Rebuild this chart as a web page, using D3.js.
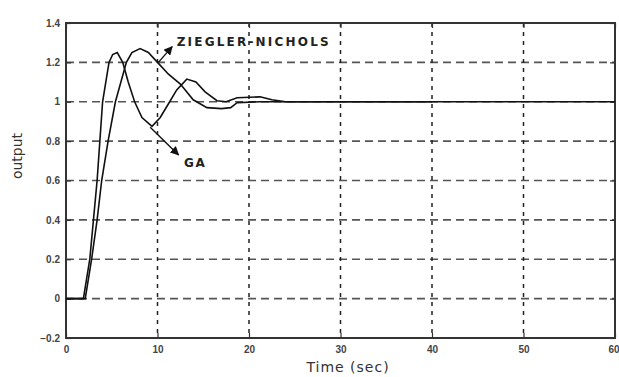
<!DOCTYPE html>
<html>
<head>
<meta charset="utf-8">
<script src="https://cdn.jsdelivr.net/npm/d3@7"></script>
<style>
  body { margin: 0; background: #fff; }
  svg { font-family: "DejaVu Sans", sans-serif; }
</style>
</head>
<body>
<svg id="chart" width="619" height="377"></svg>
<script>
// step response
const gaTime = [0, 1.9, 2.6, 3.0, 3.4, 3.7, 4.0, 4.7, 5.1, 5.6, 6.2, 6.8, 7.5, 8.3, 9.4, 10.3, 11.2, 12.1, 13.2, 14.2, 15.2, 16.5, 17.5, 18.7, 21.2, 22.5, 24, 40];
const gaOutput = [0, 0, 0.2, 0.4, 0.6, 0.8, 1.0, 1.2, 1.24, 1.25, 1.2, 1.1, 1.0, 0.92, 0.875, 0.92, 0.99, 1.06, 1.115, 1.1, 1.05, 1.005, 1.0, 1.02, 1.025, 1.01, 1.0, 1.0];

const znTime = [0, 2.1, 2.8, 3.4, 3.9, 4.6, 5.4, 6.6, 7.2, 8.1, 9.0, 10.0, 11.2, 12.5, 13.9, 15.4, 17, 18, 18.7, 21.2, 26, 60];
const znOutput = [0, 0, 0.2, 0.4, 0.6, 0.8, 1.0, 1.2, 1.25, 1.27, 1.25, 1.2, 1.14, 1.09, 1.01, 0.97, 0.965, 0.97, 0.995, 1.0, 1.0, 1.0];

const xTicks = [0, 10, 20, 30, 40, 50, 60];
const yTicks = [-0.2, 0, 0.2, 0.4, 0.6, 0.8, 1, 1.2, 1.4];

const svg = d3.select("#chart");
const width = +svg.attr("width");
const height = +svg.attr("height");
const margin = { top: 23, right: 4, bottom: 39, left: 66 };
const innerW = width - margin.left - margin.right;
const innerH = height - margin.top - margin.bottom;

const x = d3.scaleLinear().domain([0, 60]).range([0, innerW]);
const y = d3.scaleLinear().domain([-0.2, 1.4]).range([innerH, 0]);

const g = svg.append("g").attr("transform", `translate(${margin.left},${margin.top})`);

// arrow head
svg.append("defs").append("marker")
  .attr("id", "arrow")
  .attr("viewBox", "0 0 10 10")
  .attr("refX", 9).attr("refY", 5)
  .attr("markerWidth", 9).attr("markerHeight", 9)
  .attr("markerUnits", "userSpaceOnUse")
  .attr("orient", "auto")
  .append("path").attr("d", "M0,0 L10,5 L0,10 z").attr("fill", "#111");

// grid
g.selectAll(".hgrid").data(yTicks.slice(1, -1)).join("line")
  .attr("x1", 0).attr("x2", innerW)
  .attr("y1", d => y(d)).attr("y2", d => y(d))
  .attr("stroke", "#555").attr("stroke-width", 1.6)
  .attr("stroke-dasharray", "8,5");

g.selectAll(".vgrid").data(xTicks.slice(1, -1)).join("line")
  .attr("x1", d => x(d)).attr("x2", d => x(d))
  .attr("y1", 0).attr("y2", innerH)
  .attr("stroke", "#222").attr("stroke-width", 1.5)
  .attr("stroke-dasharray", "4,5");

// axes (ticks inside, matlab style)
const xAxis = g.append("g").attr("transform", `translate(0,${innerH})`)
  .call(d3.axisBottom(x).tickValues(xTicks).tickSize(-5).tickPadding(8).tickFormat(d3.format("d")));
const yAxis = g.append("g")
  .call(d3.axisLeft(y).tickValues(yTicks).tickSize(-5).tickPadding(6).tickFormat(d => d === 0 ? "0" : d3.format("")(d)));
g.append("g").call(d3.axisTop(x).tickValues(xTicks).tickSize(-5).tickFormat(""));
g.append("g").attr("transform", `translate(${innerW},0)`)
  .call(d3.axisRight(y).tickValues(yTicks).tickSize(-5).tickFormat(""));

g.selectAll(".domain").remove();
g.selectAll(".tick line").attr("stroke", "#333").attr("stroke-width", 1.2);
[xAxis, yAxis].forEach(a => a.selectAll("text")
  .attr("fill", "#444").style("font-size", "10px").style("font-weight", "bold"));
// last x label sits on the window edge, keep it inside
xAxis.selectAll(".tick text").filter(d => d === 60).attr("text-anchor", "end").attr("x", 4);

// frame
g.append("rect").attr("width", innerW).attr("height", innerH)
  .attr("fill", "none").attr("stroke", "#333").attr("stroke-width", 2);

// curves
const line = d3.line().x(d => x(d[0])).y(d => y(d[1]));
const series = [d3.zip(gaTime, gaOutput), d3.zip(znTime, znOutput)];
g.selectAll(".curve").data(series).join("path")
  .attr("class", "curve")
  .attr("d", line)
  .attr("fill", "none")
  .attr("stroke", "#111")
  .attr("stroke-width", 1.6);

// annotations
g.append("line")
  .attr("x1", x(10.1)).attr("y1", y(1.2))
  .attr("x2", x(11.6)).attr("y2", y(1.28))
  .attr("stroke", "#111").attr("stroke-width", 1.4)
  .attr("marker-end", "url(#arrow)");
g.append("text")
  .attr("x", x(12.1)).attr("y", y(1.305))
  .attr("dy", "0.35em")
  .style("font-size", "12px").style("font-weight", "bold")
  .style("letter-spacing", "2.2px")
  .attr("fill", "#222")
  .text("ZIEGLER-NICHOLS");

g.append("line")
  .attr("x1", x(9.2)).attr("y1", y(0.87))
  .attr("x2", x(12.3)).attr("y2", y(0.73))
  .attr("stroke", "#111").attr("stroke-width", 1.4)
  .attr("marker-end", "url(#arrow)");
g.append("text")
  .attr("x", x(12.9)).attr("y", y(0.69))
  .attr("dy", "0.35em")
  .style("font-size", "12px").style("font-weight", "bold")
  .style("letter-spacing", "1.5px")
  .attr("fill", "#222")
  .text("GA");

// axis titles
svg.append("text")
  .attr("transform", `translate(22,156) rotate(-90)`)
  .attr("text-anchor", "middle")
  .style("font-size", "14px")
  .attr("fill", "#333")
  .text("output");
svg.append("text")
  .attr("x", 348).attr("y", 372)
  .attr("text-anchor", "middle")
  .style("font-size", "14px")
  .style("letter-spacing", "1px")
  .attr("fill", "#333")
  .text("Time (sec)");
</script>
</body>
</html>
